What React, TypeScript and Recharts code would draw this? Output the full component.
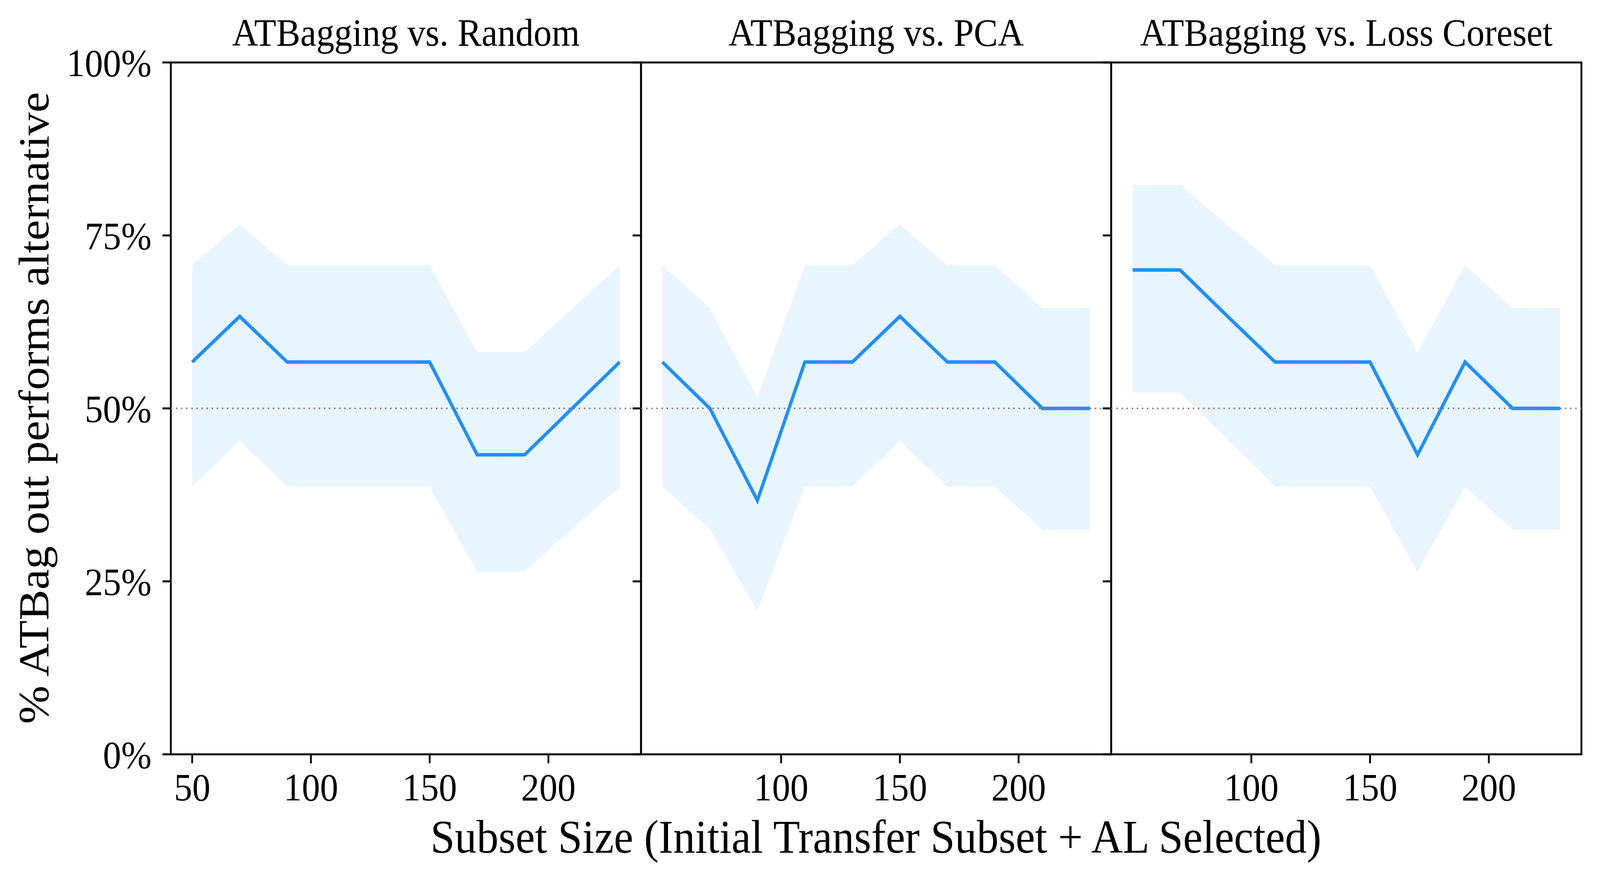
import {
  Area,
  ComposedChart,
  Line,
  ReferenceArea,
  ReferenceLine,
  XAxis,
  YAxis,
} from 'recharts';

const subsetSizes = [50, 70, 90, 110, 130, 150, 170, 190, 210, 230];

const randomMean = [56.7, 63.3, 56.7, 56.7, 56.7, 56.7, 43.3, 43.3, 50, 56.7];
const randomUpper = [70.7, 76.6, 70.7, 70.7, 70.7, 70.7, 58.1, 58.1, 64.4, 70.7];
const randomLower = [38.7, 45.3, 38.7, 38.7, 38.7, 38.7, 26.4, 26.4, 32.6, 38.7];

const pcaMean = [56.7, 50, 36.7, 56.7, 56.7, 63.3, 56.7, 56.7, 50, 50];
const pcaUpper = [70.7, 64.5, 51.6, 70.7, 70.7, 76.6, 70.7, 70.7, 64.5, 64.5];
const pcaLower = [38.7, 32.5, 20.7, 38.7, 38.7, 45.3, 38.7, 38.7, 32.5, 32.5];

const coresetMean = [70, 70, 63.3, 56.7, 56.7, 56.7, 43.3, 56.7, 50, 50];
const coresetUpper = [82.3, 82.3, 76.5, 70.7, 70.7, 70.7, 58.1, 70.7, 64.5, 64.5];
const coresetLower = [52.3, 52.3, 45.5, 38.7, 38.7, 38.7, 26.4, 38.7, 32.5, 32.5];

const panelTitles = ['ATBagging vs. Random', 'ATBagging vs. PCA', 'ATBagging vs. Loss Coreset'];
const yTicks = [0, 25, 50, 75, 100];
const firstXTicks = [50, 100, 150, 200];
const otherXTicks = [100, 150, 200];
const xLabel = 'Subset Size (Initial Transfer Subset + AL Selected)';
const yLabel = '% ATBag out performs alternative';

const FONT = '"Liberation Serif", "Times New Roman", serif';
const BLUE = '#1E90FF';
const W = 4393;
const H = 2259;
const PLOT_LEFT = 469;
const PLOT_W = 1291;
const PLOT_TOP = 160;
const PLOT_BOTTOM = 1932;

function buildRows(mean: number[], lower: number[], upper: number[]) {
  return subsetSizes.map((x, i) => ({ x, mean: mean[i], band: [lower[i], upper[i]] }));
}

const panels = [
  { title: panelTitles[0], rows: buildRows(randomMean, randomLower, randomUpper), xTicks: firstXTicks },
  { title: panelTitles[1], rows: buildRows(pcaMean, pcaLower, pcaUpper), xTicks: otherXTicks },
  { title: panelTitles[2], rows: buildRows(coresetMean, coresetLower, coresetUpper), xTicks: otherXTicks },
];

function Panel({ index }: { index: number }) {
  const panel = panels[index];
  const axisW = index === 0 ? PLOT_LEFT : 40;
  const left = PLOT_LEFT + index * PLOT_W - axisW;
  const tickStyle = { fontSize: 100, fill: '#000', fontFamily: FONT };

  return (
    <div style={{ position: 'absolute', left, top: 0 }}>
      <ComposedChart
        width={axisW + PLOT_W + 10}
        height={H}
        data={panel.rows}
        margin={{ top: PLOT_TOP, right: 10, bottom: 0, left: 0 }}
      >
        <XAxis
          dataKey="x"
          type="number"
          domain={[41, 239]}
          allowDataOverflow
          ticks={panel.xTicks}
          height={H - PLOT_BOTTOM}
          axisLine={false}
          tickLine={{ stroke: '#000', strokeWidth: 5 }}
          tickSize={23}
          tickMargin={24}
          tick={tickStyle}
          interval={0}
        />
        <YAxis
          type="number"
          domain={[0, 100]}
          ticks={yTicks}
          width={axisW}
          axisLine={false}
          tickLine={{ stroke: '#000', strokeWidth: 5 }}
          tickSize={23}
          tickMargin={30}
          tick={tickStyle}
          tickFormatter={(v) => (index === 0 ? `${v}%` : '')}
          interval={0}
        />
        <Area
          dataKey="band"
          type="linear"
          stroke="none"
          fill={BLUE}
          fillOpacity={0.1}
          isAnimationActive={false}
        />
        <Line
          dataKey="mean"
          type="linear"
          stroke={BLUE}
          strokeWidth={9}
          dot={false}
          activeDot={false}
          isAnimationActive={false}
        />
        <ReferenceLine y={50} stroke="#808080" strokeWidth={4} strokeDasharray="4 10" />
        <ReferenceArea x1={41} x2={239} y1={0} y2={100} fill="none" stroke="#000" strokeWidth={5} />
      </ComposedChart>
    </div>
  );
}

export default function App() {
  // the page viewport can differ from the figure size; stretch the fixed
  // 4393x2259 figure so it fills the visible frame exactly
  const vw = typeof window !== 'undefined' ? window.innerWidth : W;
  const vh = typeof window !== 'undefined' ? window.innerHeight : H;
  const sx = Math.min(1, vw / W);
  const sy = Math.min(1, vh / H);

  return (
    <div
      style={{
        position: 'absolute',
        left: 0,
        top: 0,
        width: W,
        height: H,
        background: '#fff',
        transform: `scale(${sx}, ${sy})`,
        transformOrigin: '0 0',
      }}
    >
      {panels.map((_, i) => (
        <Panel key={i} index={i} />
      ))}
      <svg
        width={W}
        height={H}
        style={{ position: 'absolute', left: 0, top: 0, pointerEvents: 'none' }}
      >
        {panels.map((p, i) => (
          <text
            key={p.title}
            x={PLOT_LEFT + i * PLOT_W + PLOT_W / 2}
            y={117}
            textAnchor="middle"
            fontFamily={FONT}
            fontSize={99}
            fill="#000"
          >
            {p.title}
          </text>
        ))}
        <text x={2405} y={2184} textAnchor="middle" fontFamily={FONT} fontSize={120} fill="#000">
          {xLabel}
        </text>
        <text
          x={0}
          y={0}
          transform={`translate(133, 1045) rotate(-90)`}
          textAnchor="middle"
          fontFamily={FONT}
          fontSize={118}
          fill="#000"
        >
          {yLabel}
        </text>
      </svg>
    </div>
  );
}
